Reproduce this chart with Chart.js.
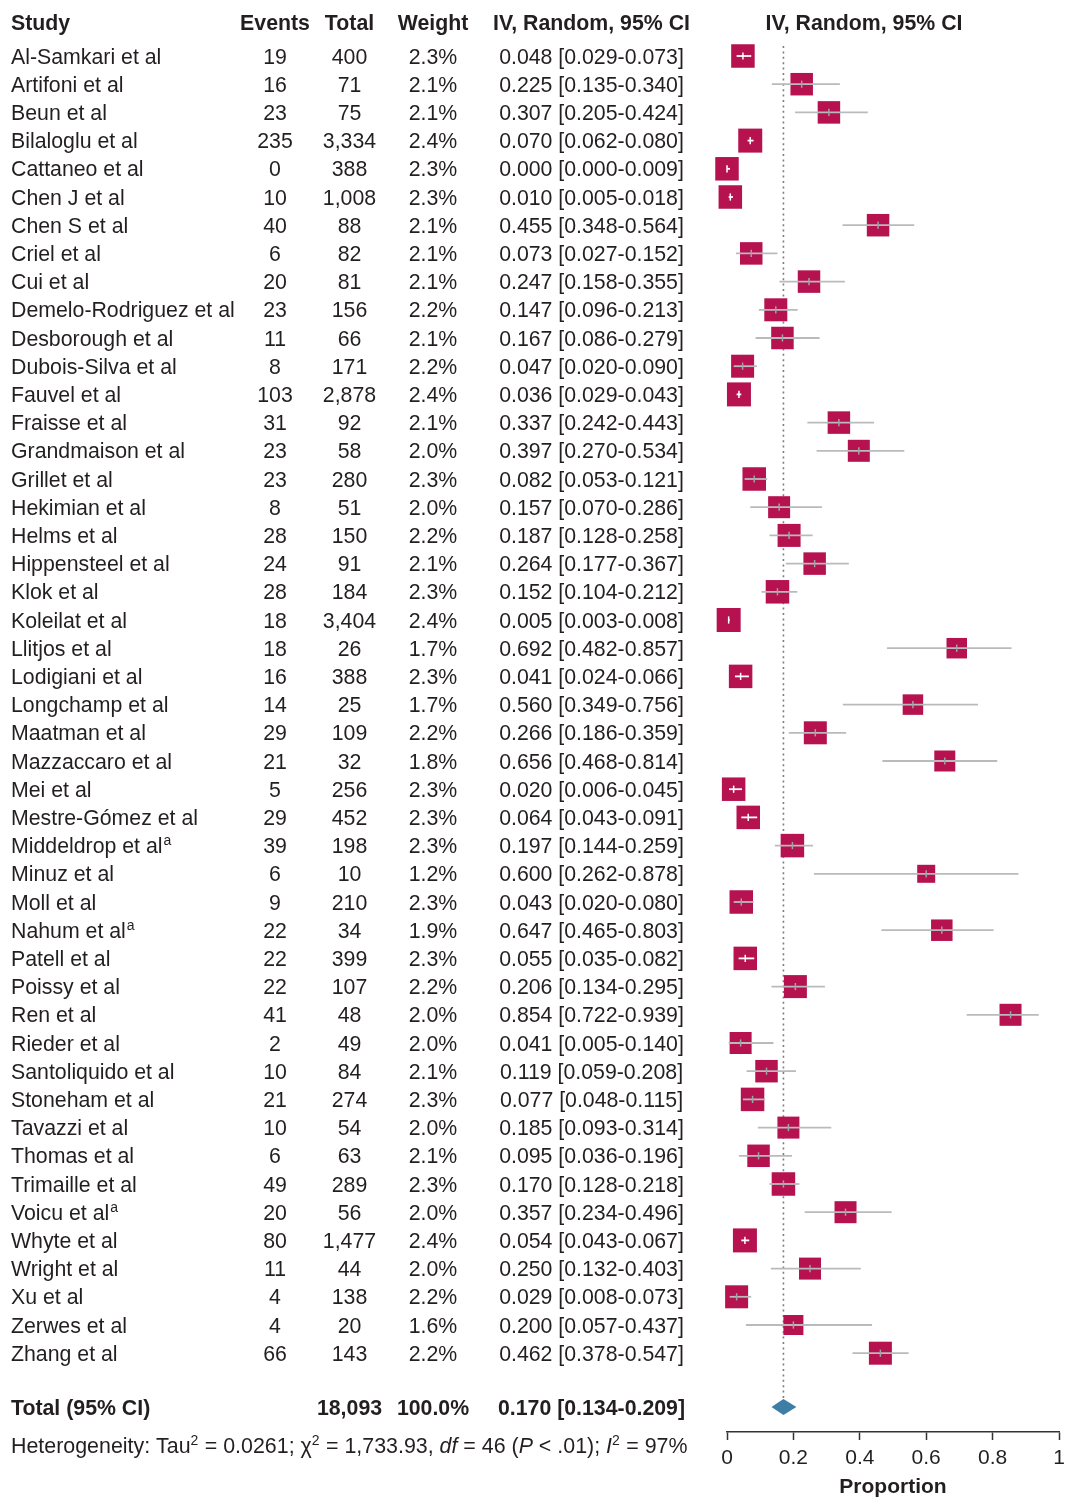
<!DOCTYPE html>
<html><head><meta charset="utf-8">
<script src="https://cdn.jsdelivr.net/npm/chart.js@4.4.0/dist/chart.umd.min.js"></script>
<style>html,body{margin:0;padding:0;background:#fff;}canvas{display:block;}</style>
</head><body>
<canvas id="c" width="1065" height="1498"></canvas>
<script>
// ---------------- DATA ----------------
const studies = ["Al-Samkari et al","Artifoni et al","Beun et al","Bilaloglu et al","Cattaneo et al","Chen J et al","Chen S et al","Criel et al","Cui et al","Demelo-Rodriguez et al","Desborough et al","Dubois-Silva et al","Fauvel et al","Fraisse et al","Grandmaison et al","Grillet et al","Hekimian et al","Helms et al","Hippensteel et al","Klok et al","Koleilat et al","Llitjos et al","Lodigiani et al","Longchamp et al","Maatman et al","Mazzaccaro et al","Mei et al","Mestre-Gómez et al","Middeldrop et al","Minuz et al","Moll et al","Nahum et al","Patell et al","Poissy et al","Ren et al","Rieder et al","Santoliquido et al","Stoneham et al","Tavazzi et al","Thomas et al","Trimaille et al","Voicu et al","Whyte et al","Wright et al","Xu et al","Zerwes et al","Zhang et al"];
const footnoted = ["Middeldrop et al","Nahum et al","Voicu et al"];
const events = [19,16,23,235,0,10,40,6,20,23,11,8,103,31,23,23,8,28,24,28,18,18,16,14,29,21,5,29,39,6,9,22,22,22,41,2,10,21,10,6,49,20,80,11,4,4,66];
const totals = [400,71,75,3334,388,1008,88,82,81,156,66,171,2878,92,58,280,51,150,91,184,3404,26,388,25,109,32,256,452,198,10,210,34,399,107,48,49,84,274,54,63,289,56,1477,44,138,20,143];
const weights = [2.3,2.1,2.1,2.4,2.3,2.3,2.1,2.1,2.1,2.2,2.1,2.2,2.4,2.1,2.0,2.3,2.0,2.2,2.1,2.3,2.4,1.7,2.3,1.7,2.2,1.8,2.3,2.3,2.3,1.2,2.3,1.9,2.3,2.2,2.0,2.0,2.1,2.3,2.0,2.1,2.3,2.0,2.4,2.0,2.2,1.6,2.2];
const proportions = [0.048,0.225,0.307,0.070,0.000,0.010,0.455,0.073,0.247,0.147,0.167,0.047,0.036,0.337,0.397,0.082,0.157,0.187,0.264,0.152,0.005,0.692,0.041,0.560,0.266,0.656,0.020,0.064,0.197,0.600,0.043,0.647,0.055,0.206,0.854,0.041,0.119,0.077,0.185,0.095,0.170,0.357,0.054,0.250,0.029,0.200,0.462];
const ciLower = [0.029,0.135,0.205,0.062,0.000,0.005,0.348,0.027,0.158,0.096,0.086,0.020,0.029,0.242,0.270,0.053,0.070,0.128,0.177,0.104,0.003,0.482,0.024,0.349,0.186,0.468,0.006,0.043,0.144,0.262,0.020,0.465,0.035,0.134,0.722,0.005,0.059,0.048,0.093,0.036,0.128,0.234,0.043,0.132,0.008,0.057,0.378];
const ciUpper = [0.073,0.340,0.424,0.080,0.009,0.018,0.564,0.152,0.355,0.213,0.279,0.090,0.043,0.443,0.534,0.121,0.286,0.258,0.367,0.212,0.008,0.857,0.066,0.756,0.359,0.814,0.045,0.091,0.259,0.878,0.080,0.803,0.082,0.295,0.939,0.140,0.208,0.115,0.314,0.196,0.218,0.496,0.067,0.403,0.073,0.437,0.547];
const pooledTotal = 18093;
const pooledWeight = 100.0;
const pooledEst = 0.170, pooledLower = 0.134, pooledUpper = 0.209;
const heterogeneity = {tau2:"0.0261", chi2:"1,733.93", df:46, p:"< .01", i2:"97%"};
const headers = ["Study","Events","Total","Weight","IV, Random, 95% CI"];
const plotHeader = "IV, Random, 95% CI";
const axisTitle = "Proportion";

// ---------------- LAYOUT / STYLE ----------------
const ROW_H = 28.2, FIRST_Y = 56, AXIS_Y = 1432, TOTAL_Y = 1407;
const TXT = '#231f20';
const FAM = '"Liberation Sans", Arial, Helvetica, sans-serif';
const SQ = '#b5124f', CI_GREY = '#b7bbbd', TICK_GREY = '#a0a5a7', DIA = '#3d7ea6';
const yVal = py => (py - FIRST_Y) / ROW_H;
const side = w => 12 + 5 * w;

function isInside(chart, i) {
  const xs = chart.scales.x;
  const e = xs.getPixelForValue(proportions[i]);
  const l = xs.getPixelForValue(ciLower[i]);
  const h = xs.getPixelForValue(ciUpper[i]);
  const half = side(weights[i]) / 2;
  return (e - l) <= half && (h - e) <= half;
}

const ciData = [];
proportions.forEach((p, i) => {
  ciData.push({x: ciLower[i], y: i}, {x: ciUpper[i], y: i}, {x: null, y: null});
});

const fmtInt = n => n.toLocaleString('en-US');
const fmtCI = (e, l, h) => e.toFixed(3) + ' [' + l.toFixed(3) + '-' + h.toFixed(3) + ']';

function put(ctx, s, x, y, align, font) {
  ctx.font = font; ctx.textAlign = align;
  ctx.fillText(s, x, y);
}

const COL = {study: 11, events: 275, total: 349.5, weight: 433, ci: 591.5, plot: 864};

const tablePlugin = {
  id: 'forestTable',
  afterDatasetsDraw(chart) {
    const ctx = chart.ctx, xs = chart.scales.x, ys = chart.scales.y;
    const yc = ys.getPixelForValue(yVal(TOTAL_Y));
    ctx.save();
    ctx.fillStyle = DIA;
    ctx.beginPath();
    ctx.moveTo(xs.getPixelForValue(pooledLower), yc);
    ctx.lineTo(xs.getPixelForValue(pooledEst), yc - 8);
    ctx.lineTo(xs.getPixelForValue(pooledUpper), yc);
    ctx.lineTo(xs.getPixelForValue(pooledEst), yc + 8);
    ctx.closePath(); ctx.fill();
    ctx.restore();
  },
  afterDraw(chart) {
    const ctx = chart.ctx, ys = chart.scales.y;
    ctx.save();
    ctx.fillStyle = TXT;
    ctx.textBaseline = 'alphabetic';
    const NORM = '21.3px ' + FAM, BOLD = 'bold 21.3px ' + FAM;
    // headers
    const hy = 22 + 7.5;
    put(ctx, headers[0], COL.study, hy, 'left', BOLD);
    put(ctx, headers[1], COL.events, hy, 'center', BOLD);
    put(ctx, headers[2], COL.total, hy, 'center', BOLD);
    put(ctx, headers[3], COL.weight, hy, 'center', BOLD);
    put(ctx, headers[4], COL.ci, hy, 'center', BOLD);
    put(ctx, plotHeader, COL.plot, hy, 'center', BOLD);
    // rows
    studies.forEach((s, i) => {
      const y = ys.getPixelForValue(i) + 7.5;
      put(ctx, s, COL.study, y, 'left', NORM);
      if (footnoted.includes(s)) {
        ctx.font = NORM;
        const w = ctx.measureText(s).width;
        put(ctx, 'a', COL.study + w + 1, y - 8, 'left', '14px ' + FAM);
      }
      put(ctx, String(events[i]), COL.events, y, 'center', NORM);
      put(ctx, fmtInt(totals[i]), COL.total, y, 'center', NORM);
      put(ctx, weights[i].toFixed(1) + '%', COL.weight, y, 'center', NORM);
      put(ctx, fmtCI(proportions[i], ciLower[i], ciUpper[i]), COL.ci, y, 'center', NORM);
    });
    // total row
    const ty = ys.getPixelForValue(yVal(TOTAL_Y)) + 7.5;
    put(ctx, 'Total (95% CI)', COL.study, ty, 'left', BOLD);
    put(ctx, fmtInt(pooledTotal), COL.total, ty, 'center', BOLD);
    put(ctx, pooledWeight.toFixed(1) + '%', COL.weight, ty, 'center', BOLD);
    put(ctx, fmtCI(pooledEst, pooledLower, pooledUpper), COL.ci, ty, 'center', BOLD);
    // heterogeneity
    const hgY = 1445 + 7.5;
    const R = '21.4px ' + FAM, I = 'italic 21.4px ' + FAM, S = '14px ' + FAM;
    const parts = [
      ['Heterogeneity: Tau', R], ['2', S, true], [' = ' + heterogeneity.tau2 + '; ', R], ['\u03c7', R], ['2', S, true],
      [' = ' + heterogeneity.chi2 + ', ', R], ['df', I], [' = ' + heterogeneity.df + ' (', R], ['P', I],
      [' ' + heterogeneity.p + '); ', R], ['I', I], ['2', S, true], [' = ' + heterogeneity.i2, R]
    ];
    let x = COL.study;
    ctx.textAlign = 'left';
    parts.forEach(([t, f, sup]) => {
      ctx.font = f;
      ctx.fillText(t, x, sup ? hgY - 8 : hgY);
      x += ctx.measureText(t).width + (sup ? 0.5 : 0);
    });
    ctx.restore();
  }
};

new Chart(document.getElementById('c'), {
  type: 'scatter',
  data: {
    datasets: [
      { // reference dotted line at pooled estimate
        type: 'line', order: 5, clip: false,
        data: [{x: pooledEst, y: yVal(46)}, {x: pooledEst, y: yVal(1398)}],
        borderColor: '#7d7d7d', borderWidth: 1.6, borderDash: [2, 3.4], pointRadius: 0
      },
      { // study squares
        type: 'scatter', order: 3, clip: false,
        data: proportions.map((p, i) => ({x: p, y: i})),
        pointStyle: 'rect',
        pointRadius: c => side(weights[c.dataIndex]) / Math.SQRT2,
        pointHoverRadius: c => side(weights[c.dataIndex]) / Math.SQRT2,
        pointBackgroundColor: SQ, pointBorderWidth: 0
      },
      { // confidence intervals
        type: 'line', order: 2, clip: false, spanGaps: false,
        data: ciData, pointRadius: 0, borderWidth: 1.8, borderColor: CI_GREY,
        segment: {
          borderColor: c => isInside(c.chart, Math.floor(c.p0DataIndex / 3)) ? '#ffffff' : CI_GREY
        }
      },
      { // estimate tick
        type: 'scatter', order: 1, clip: false,
        data: proportions.map((p, i) => ({x: p, y: i})),
        pointStyle: 'line', rotation: 90, pointRadius: 3.6, pointBorderWidth: 1.5,
        pointBorderColor: c => isInside(c.chart, c.dataIndex) ? '#ffffff' : TICK_GREY
      }
    ]
  },
  options: {
    responsive: false, animation: false, events: [],
    layout: {autoPadding: false, padding: {left: 727, right: 6, top: 0, bottom: 0}},
    plugins: {legend: {display: false}, tooltip: {enabled: false}},
    scales: {
      x: {
        type: 'linear', position: 'bottom', min: 0, max: 1,
        ticks: {stepSize: 0.2, color: TXT, font: {family: FAM, size: 21}, padding: 6, maxRotation: 0, autoSkip: false,
                callback: v => String(Number(v.toFixed(1)))},
        grid: {drawOnChartArea: false, drawTicks: true, tickLength: 8, tickColor: '#333', tickWidth: 1.5},
        border: {display: true, color: '#333', width: 1.5},
        title: {display: true, text: axisTitle, color: TXT, font: {family: FAM, size: 21, weight: 'bold', lineHeight: 1}, padding: {top: 0, bottom: 0}},
        afterFit: s => { s.height = 1498 - AXIS_Y; s.paddingLeft = 0; s.paddingRight = 0; }
      },
      y: {
        type: 'linear', display: false, reverse: true,
        min: yVal(0), max: yVal(AXIS_Y)
      }
    }
  },
  plugins: [tablePlugin]
});
</script>
</body></html>
